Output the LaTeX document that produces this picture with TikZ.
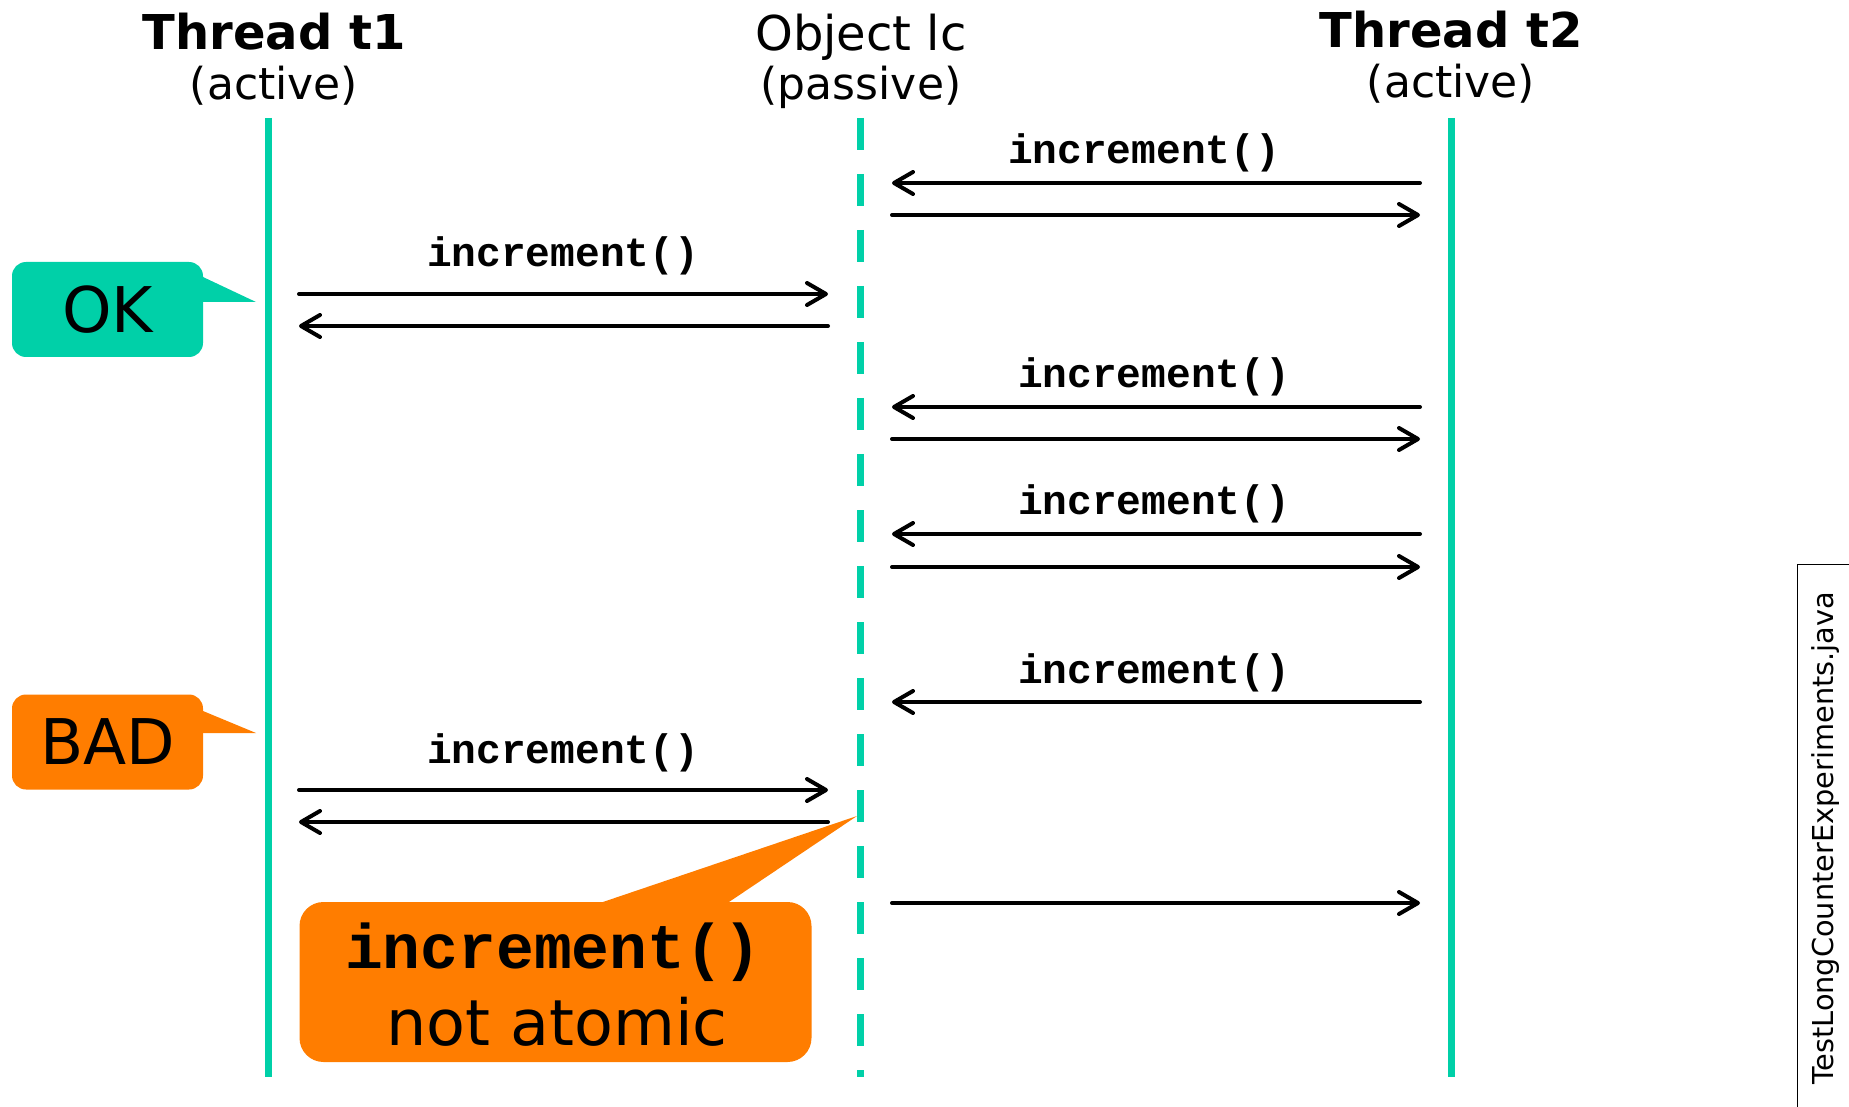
\documentclass[tikz,border=0pt]{standalone}
\usepackage{fontspec}
\setmainfont{DejaVu Sans}
\newfontfamily\codefont{Liberation Mono}
\usetikzlibrary{arrows.meta}
\definecolor{lifeteal}{RGB}{0,208,168}
\definecolor{badorange}{RGB}{255,125,0}

\begin{document}
\begin{tikzpicture}[x=0.5pt,y=-0.5pt,
  headtxt/.style={anchor=base,font=\bfseries\fontsize{24}{28}\selectfont},
  subhead/.style={anchor=base,font=\fontsize{22}{26}\selectfont},
  life/.style={line width=3.5pt,draw=lifeteal},
  msg/.style={line width=2pt,line cap=round,-{Straight Barb[length=9.5pt,width=11pt,round]}},
  calltxt/.style={anchor=base,font=\codefont\bfseries\fontsize{20.6}{24}\selectfont},
  tagbox/.style={rounded corners=7pt,minimum width=95.5pt,minimum height=47.5pt,inner sep=0pt,font=\fontsize{31.5}{36}\selectfont}
]
\useasboundingbox (0,0) rectangle (1849,1107);

%heads of the three lifelines
\node[headtxt] (t1) at (274,50) {Thread t1};
\node[subhead] (t1s) at (274,100) {(active)};
\node[anchor=base,font=\fontsize{24}{28}\selectfont] (lc) at (861,51) {Object lc};
\node[subhead] (lcs) at (861,100) {(passive)};
\node[headtxt] (t2) at (1451,48) {Thread t2};
\node[subhead] (t2s) at (1451,98) {(active)};

%lifelines
\draw[life] (268,118) -- (268,1077);
\draw[life,dash pattern=on 16pt off 12pt] (860,118) -- (860,1077);
\draw[life] (1451,118) -- (1451,1077);

%calls of thread t2, and their returns
\foreach \n/\y/\lx in {1/183/1144,2/407/1154,3/534/1154,4/702/1154}{
  \coordinate (r\n) at (1420,\y);
  \coordinate (l\n) at (892,\y);
  \node[calltxt] (c\n) at (\lx,\y-19) {increment()};
  \draw[msg] (r\n) -- (l\n);
}
\foreach \n/\y in {1/215,2/439,3/567,4/903}{
  \coordinate (rr\n) at (1420,\y);
  \coordinate (lr\n) at (892,\y);
  \draw[msg] (lr\n) -- (rr\n);
}

%calls of thread t1, and their returns
\foreach \n/\y in {1/294,2/790}{
  \coordinate (a\n) at (299,\y);
  \coordinate (b\n) at (828,\y);
  \coordinate (ar\n) at (299,\y+32);
  \coordinate (br\n) at (828,\y+32);
  \node[calltxt] (d\n) at (563,\y-27) {increment()};
  \draw[msg] (a\n) -- (b\n);
  \draw[msg] (br\n) -- (ar\n);
}

%OK and BAD tags
\fill[lifeteal] (203,277) -- (256,302) -- (203,302) -- cycle;
\node[tagbox,fill=lifeteal] (ok) at (107.5,309.5) {OK};
\fill[badorange] (203,711) -- (256,733) -- (203,733) -- cycle;
\node[tagbox,fill=badorange] (bad) at (107.5,742) {BAD};

%note on the second call
\fill[badorange] (597,904) -- (857,816) -- (726,904) -- cycle;
\node[fill=badorange,rounded corners=12pt,minimum width=256pt,minimum height=80pt,inner sep=0pt] (note) at (555.5,982) {};
\node[anchor=base,font=\codefont\bfseries\fontsize{31.5}{34}\selectfont] (note1) at (553,968) {increment()};
\node[anchor=base,font=\fontsize{31.8}{34}\selectfont] (note2) at (557,1045) {not atomic};

%source file
\draw[line width=0.5pt] (1797,1110) -- (1797,564) -- (1852,564);
\node[rotate=90,font=\fontsize{14.4}{16}\selectfont] (src) at (1826,838) {TestLongCounterExperiments.java};
\end{tikzpicture}
\end{document}
